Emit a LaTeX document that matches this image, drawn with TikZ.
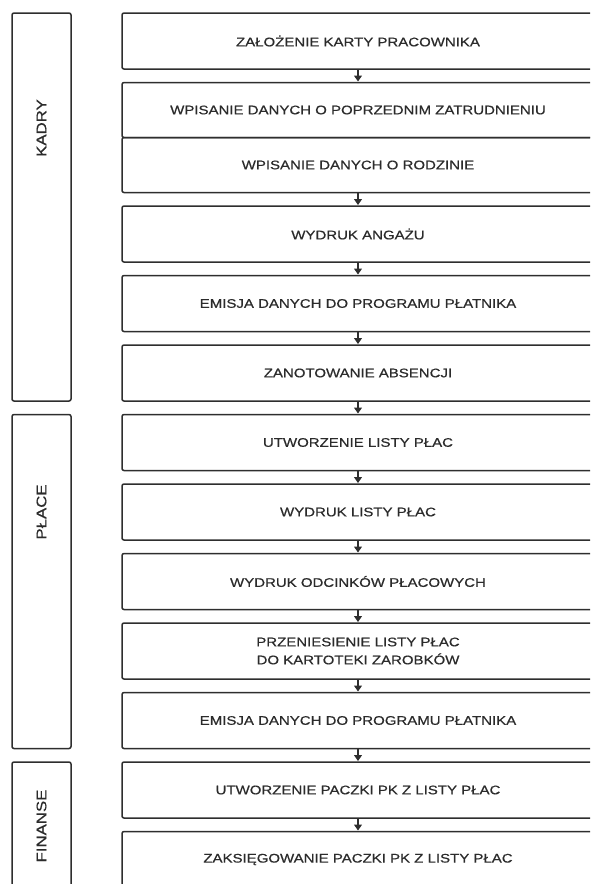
\documentclass[tikz,border=0pt]{standalone}
\usepackage{fontspec}
\setmainfont{Liberation Sans}[FakeStretch=1.2,FakeBold=0.6]
\usepackage{xcolor}
\usetikzlibrary{arrows.meta,positioning,fit}
\definecolor{flowLine}{HTML}{2E2E2E}
\definecolor{flowText}{HTML}{2B2B2B}

\tikzset{
  stepbox/.style={draw=flowLine,line width=1.5pt,rounded corners=2pt,
    minimum width=472pt,minimum height=56pt,inner sep=2pt,outer sep=0pt,
    align=center,text=flowText},
  groupbox/.style={draw=flowLine,line width=1.5pt,rounded corners=2pt,
    inner sep=0pt,outer sep=0pt},
  grouplabel/.style={rotate=90,text=flowText,font=\fontsize{14}{16}\selectfont},
  flow/.style={draw=flowLine,line width=1.2pt,
    -{Triangle[width=8pt,length=6pt]},shorten >=1pt}
}

\begin{document}
\begin{tikzpicture}[x=1pt,y=-1pt,font=\fontsize{12.5}{18}\selectfont]
    \path[use as bounding box,clip] (0,0) rectangle (590,884);

    % kolumna krokow
    \node[stepbox] (zalozenie) at (358,41) {ZAŁOŻENIE KARTY PRACOWNIKA};
    \node[stepbox,minimum height=55pt,below=13.5pt of zalozenie] (zatrudnienie)
      {WPISANIE DANYCH O POPRZEDNIM ZATRUDNIENIU};
    \node[stepbox,minimum height=55pt,below=0pt of zatrudnienie] (rodzina)
      {WPISANIE DANYCH O RODZINIE};
    \node[stepbox,below=13.5pt of rodzina] (angaz) {WYDRUK ANGAŻU};
    \node[stepbox,below=13.5pt of angaz] (emisjaK) {EMISJA DANYCH DO PROGRAMU PŁATNIKA};
    \node[stepbox,below=13.5pt of emisjaK] (absencje) {ZANOTOWANIE ABSENCJI};
    \node[stepbox,below=13.5pt of absencje] (lista) {UTWORZENIE LISTY PŁAC};
    \node[stepbox,below=13.5pt of lista] (wydrukL) {WYDRUK LISTY PŁAC};
    \node[stepbox,below=13.5pt of wydrukL] (odcinki) {WYDRUK ODCINKÓW PŁACOWYCH};
    \node[stepbox,below=13.5pt of odcinki] (kartoteka)
      {PRZENIESIENIE LISTY PŁAC\\DO KARTOTEKI ZAROBKÓW};
    \node[stepbox,below=13.5pt of kartoteka] (emisjaP) {EMISJA DANYCH DO PROGRAMU PŁATNIKA};
    \node[stepbox,below=13.5pt of emisjaP] (paczka) {UTWORZENIE PACZKI PK Z LISTY PŁAC};
    \node[stepbox,below=13.5pt of paczka] (ksiegowanie) {ZAKSIĘGOWANIE PACZKI PK Z LISTY PŁAC};

    \draw[flow] (zalozenie) -- (zatrudnienie);
    \draw[flow] (rodzina) -- (angaz);
    \draw[flow] (angaz) -- (emisjaK);
    \draw[flow] (emisjaK) -- (absencje);
    \draw[flow] (absencje) -- (lista);
    \draw[flow] (lista) -- (wydrukL);
    \draw[flow] (wydrukL) -- (odcinki);
    \draw[flow] (odcinki) -- (kartoteka);
    \draw[flow] (kartoteka) -- (emisjaP);
    \draw[flow] (emisjaP) -- (paczka);
    \draw[flow] (paczka) -- (ksiegowanie);

    % dzialy
    \coordinate (gl) at (12,0);
    \coordinate (gr) at (71,0);
    \node[groupbox,fit={(zalozenie.north -| gl) (absencje.south -| gr)}] (kadry) {};
    \node[groupbox,fit={(lista.north -| gl) (emisjaP.south -| gr)}] (place) {};
    \node[groupbox,fit={(paczka.north -| gl) (ksiegowanie.south -| gr)}] (finanse) {};

    \node[grouplabel] (kadryL) at (41.5,128) {KADRY};
    \node[grouplabel] (placeL) at (41.5,512) {PŁACE};
    \node[grouplabel] (finanseL) at (41.5,826) {FINANSE};
  \end{tikzpicture}
\end{document}
